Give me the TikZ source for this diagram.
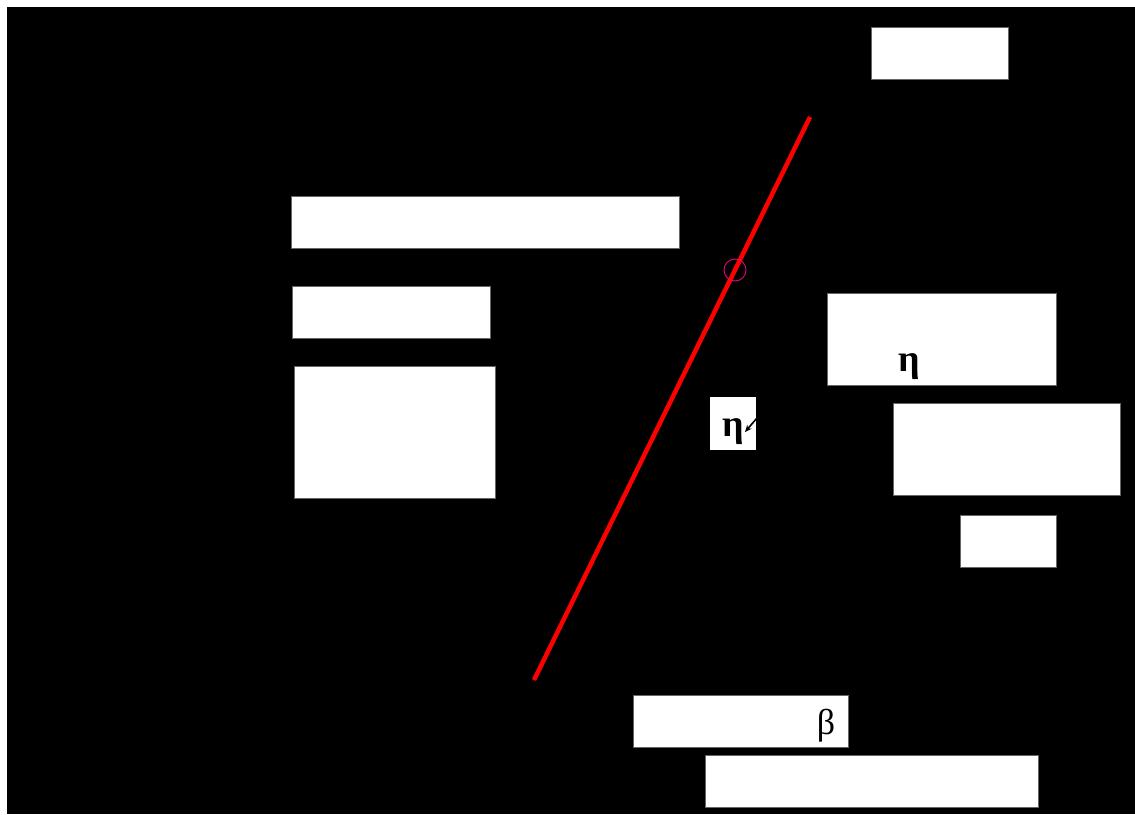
\documentclass[tikz,border=0pt]{standalone}
\usepackage{fontspec}
\setmainfont{Liberation Serif}
\usetikzlibrary{arrows.meta}
\begin{document}
\begin{tikzpicture}[x=1pt,y=-1pt,
  wbox/.style={draw=black!60,line width=0.8pt,fill=white,inner sep=0pt,outer sep=0pt,anchor=north west},
  glyph/.style={inner sep=0pt,font=\bfseries\fontsize{38}{40}\selectfont}]
\useasboundingbox (0,0) rectangle (1135,814);
\fill[white] (0,0) rectangle (1135,814);
\fill[black] (7,7) rectangle (1135,814);
% boxes
\node[wbox,minimum width=137,minimum height=52] (b1) at (871,27) {};
\node[wbox,minimum width=388,minimum height=52] (b2) at (291,196) {};
\node[wbox,minimum width=198,minimum height=52] (b3) at (292,286) {};
\node[wbox,minimum width=201,minimum height=132] (b4) at (294,366) {};
\node[wbox,minimum width=229,minimum height=92] (b5) at (827,293) {};
\node[draw=none,fill=white,inner sep=0pt,anchor=north west,minimum width=46,minimum height=53] (b6) at (710,397) {};
\node[wbox,minimum width=227,minimum height=92] (b7) at (893,403) {};
\node[wbox,minimum width=96,minimum height=52] (b8) at (960,515) {};
\node[wbox,minimum width=215,minimum height=52] (b9) at (633,695) {};
\node[wbox,minimum width=333,minimum height=52] (b10) at (705,755) {};
% glyphs
\node[glyph] (eta1) at (909,367) {η};
\node[glyph] (eta2) at (733,432) {η};
\node[inner sep=0pt,font=\fontsize{36}{38}\selectfont] (beta) at (826,726) {β};
% small arrow at the eta box
\coordinate (arrS) at (757,418);
\coordinate (arrE) at (745,432);
\draw[line width=1.6pt,-{Stealth[length=7pt,width=6pt]}] (arrS) -- (arrE);
% red line
\coordinate (rTop) at (810,117);
\coordinate (rBot) at (534,680);
\draw[red,line width=4.5pt] (rTop) -- (rBot);
% pink circle
\node[draw=magenta!80!red,line width=0.9pt,circle,minimum size=22,inner sep=0pt] (circ) at (735,270) {};
\end{tikzpicture}
\end{document}
